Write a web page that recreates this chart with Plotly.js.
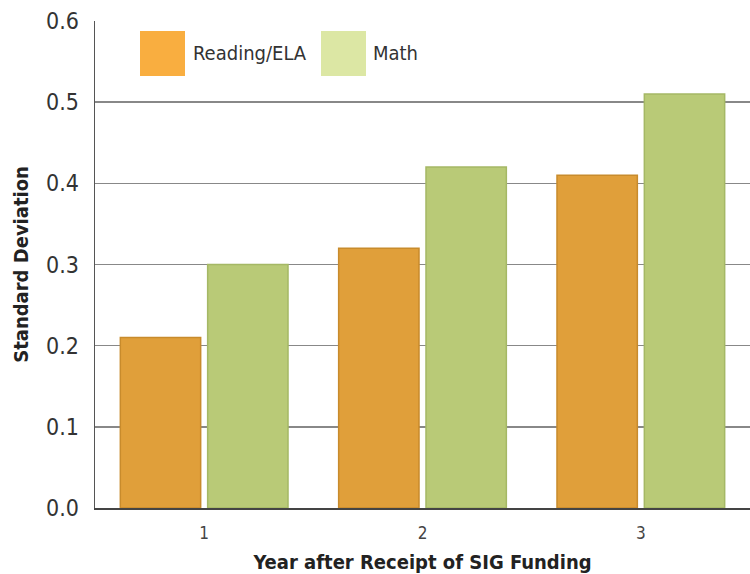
<!DOCTYPE html>
<html>
<head>
<meta charset="utf-8">
<script src="https://cdn.plot.ly/plotly-3.0.1.min.js"></script>
<style>html,body{margin:0;padding:0;background:#fff;}#chart{width:750px;height:574px;}</style>
</head>
<body>
<div id="chart"></div>
<script>
const categories = ["1", "2", "3"];
const readingELA = [0.21, 0.32, 0.41];
const math = [0.30, 0.42, 0.51];
const seriesNames = ["Reading/ELA", "Math"];
const yTicks = [0, 0.1, 0.2, 0.3, 0.4, 0.5, 0.6];
const yTickLabels = ["0.0", "0.1", "0.2", "0.3", "0.4", "0.5", "0.6"];

const FONT = "'Liberation Sans Narrow', 'DejaVu Sans Condensed', 'Roboto Condensed', sans-serif";

const traces = [
  {type: "bar", name: seriesNames[0], x: categories, y: readingELA,
   marker: {color: "#E09F3A", line: {color: "#C88B2C", width: 1.5}}},
  {type: "bar", name: seriesNames[1], x: categories, y: math,
   marker: {color: "#B9CA77", line: {color: "#A5B865", width: 1.5}}}
];

const layout = {
  width: 750, height: 574,
  margin: {l: 95, r: 0, t: 21, b: 66},
  paper_bgcolor: "#fff", plot_bgcolor: "#fff",
  barmode: "group", bargap: 0.2, bargroupgap: 0.08,
  showlegend: false,
  font: {family: FONT, color: "#333"},
  xaxis: {
    type: "category", range: [-0.5, 2.5],
    showline: true, linecolor: "#444", linewidth: 2,
    ticks: "", showgrid: false, zeroline: false,
    tickfont: {size: 17, color: "#444", family: FONT},
    ticklabelstandoff: 9,
    title: {text: "<b>Year after Receipt of SIG Funding</b>", font: {size: 20, color: "#222", family: FONT}, standoff: 18}
  },
  yaxis: {
    range: [0, 0.6], tickvals: yTicks, ticktext: yTickLabels,
    showline: true, linecolor: "#555", linewidth: 1.5,
    showgrid: true, gridcolor: "#888", gridwidth: 1.5,
    zeroline: false, ticks: "",
    tickfont: {size: 23, color: "#333", family: FONT},
    ticklabelstandoff: 10,
    title: {text: "<b>Standard Deviation</b>", font: {size: 20, color: "#222", family: FONT}, standoff: 12}
  },
  shapes: [
    {type: "rect", xref: "paper", yref: "paper", x0: 45/655, x1: 90/655, y0: (508-76)/487, y1: (508-31)/487,
     fillcolor: "#F9AE40", line: {width: 0}},
    {type: "rect", xref: "paper", yref: "paper", x0: 226/655, x1: 271/655, y0: (508-76)/487, y1: (508-31)/487,
     fillcolor: "#DCE7A4", line: {width: 0}}
  ],
  annotations: [
    {xref: "paper", yref: "paper", x: 96/655, y: (508-53)/487, xanchor: "left", yanchor: "middle",
     text: seriesNames[0], showarrow: false, font: {size: 20, color: "#333", family: FONT}},
    {xref: "paper", yref: "paper", x: 276/655, y: (508-53)/487, xanchor: "left", yanchor: "middle",
     text: seriesNames[1], showarrow: false, font: {size: 20, color: "#333", family: FONT}}
  ]
};

Plotly.newPlot("chart", traces, layout, {displayModeBar: false, staticPlot: true});
</script>
</body>
</html>
